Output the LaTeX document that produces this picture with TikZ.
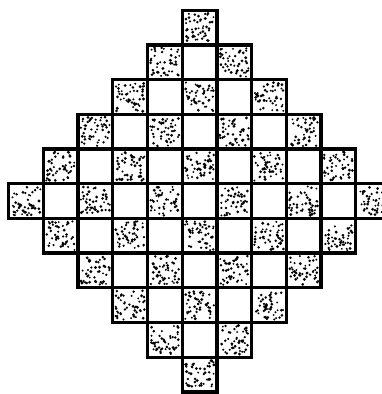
\documentclass[tikz,border=0pt]{standalone}
\begin{document}
\begin{tikzpicture}[x=1pt,y=-1pt,
  gridline/.style={line width=3.3pt,line join=miter},
  stipple/.style={fill=black}]
\useasboundingbox (0,0) rectangle (381,394);
\pgfmathsetseed{4242}
\def\s{34.7}
\foreach \r in {-5,...,5} {
  \pgfmathtruncatemacro\n{5-abs(\r)}
  \pgfmathtruncatemacro\m{-\n}
  \foreach \c in {\m,...,\n} {
    \pgfmathsetmacro\cx{199.5+\c*\s}
    \pgfmathsetmacro\cy{201+\r*\s}
    \pgfmathtruncatemacro\odd{mod(abs(\c+\r),2)}
    \ifnum\odd=1
      \foreach \k in {1,...,46} {
        \pgfmathsetmacro\dx{rand*14.5}
        \pgfmathsetmacro\dy{rand*14.5}
        \pgfmathsetmacro\rr{1.0+0.6*rnd}
        \fill[stipple] (\cx+\dx,\cy+\dy) circle (\rr);
      }
    \fi
    \draw[gridline] (\cx-\s/2,\cy-\s/2) rectangle ++(\s,\s);
  }
}
\end{tikzpicture}
\end{document}
